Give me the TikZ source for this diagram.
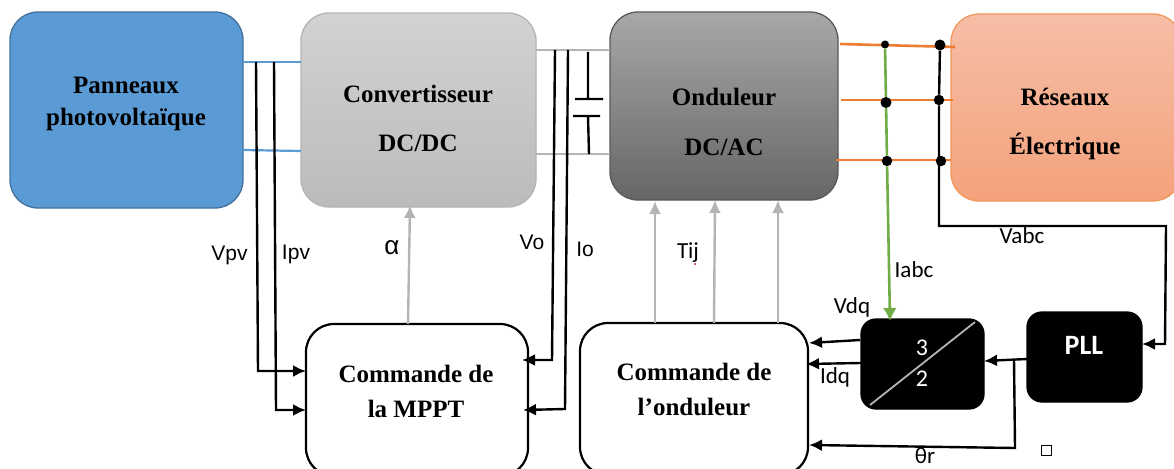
\documentclass[tikz,border=0pt]{standalone}
\usepackage{fontspec}
\setmainfont{Liberation Serif}
\newfontfamily\arialf{Liberation Sans}
\newfontfamily\calibf{Carlito}
\usetikzlibrary{arrows.meta}
\definecolor{blueF}{HTML}{5B9BD5}
\definecolor{blueD}{HTML}{41719C}
\definecolor{orangeL}{HTML}{ED7D31}
\definecolor{greenL}{HTML}{70AD47}
\definecolor{grayL}{HTML}{B4B4B4}
\definecolor{cvT}{HTML}{D2D2D2}
\definecolor{cvB}{HTML}{BBBBBB}
\definecolor{onT}{HTML}{A8A8A8}
\definecolor{onB}{HTML}{666666}
\definecolor{reT}{HTML}{F6BEA6}
\definecolor{reB}{HTML}{F4A27C}
\tikzset{
  box/.style={rectangle,inner sep=0pt,outer sep=0pt,line width=1.3pt},
  big/.style={box,rounded corners=28pt},
  ctrl/.style={big,draw=black,fill=white,line width=2.2pt},
  blackbox/.style={box,rounded corners=15pt,fill=black,draw=black},
  title/.style={align=center,font=\bfseries\fontsize{25}{#1}\selectfont,inner sep=0pt},
  title/.default=32,
  lab/.style={font=\arialf\fontsize{21}{24}\selectfont,inner sep=0pt},
  clab/.style={font=\calibf\fontsize{23}{25}\selectfont,inner sep=0pt},
  wh/.style={font=\calibf\fontsize{24}{26}\selectfont,text=white,inner sep=0pt},
  blk/.style={draw=black,line width=2.4pt},
  sig/.style={blk,-{Latex[length=13pt,width=12pt]}},
  graysig/.style={draw=grayL,line width=2.4pt,-{Latex[length=13pt,width=12pt]}},
  wire/.style={line width=2.2pt},
  dot/.style={circle,fill=black,inner sep=0pt,minimum size=#1},
  dot/.default=11pt
}
\begin{document}
\begin{tikzpicture}[x=1pt,y=-1pt]
\useasboundingbox (0,0) rectangle (1174,468);
\clip (0,0) rectangle (1174,468);
\fill[white] (0,0) rectangle (1174,468);
% boxes
\node[big,draw=blueD,fill=blueF,minimum width=233pt,minimum height=196pt] (pv) at (126.5,110) {};
\node[big,draw=grayL,top color=cvT,bottom color=cvB,minimum width=235pt,minimum height=194pt] (conv) at (418.5,110) {};
\node[big,draw=black!65,top color=onT,bottom color=onB,minimum width=228pt,minimum height=188pt] (ond) at (724,106) {};
\node[big,draw=orangeL!80,top color=reT,bottom color=reB,minimum width=230pt,minimum height=187pt] (res) at (1066,107.5) {};
\node[ctrl,minimum width=222pt,minimum height=152pt] (mppt) at (417,400) {};
\node[ctrl,minimum width=228pt,minimum height=152pt] (cond) at (694,399) {};
\node[blackbox,minimum width=123pt,minimum height=90pt] (conv32) at (922.5,364) {};
\node[blackbox,minimum width=115pt,minimum height=90pt] (pll) at (1084.5,357) {};
% titles
\node[title] (tpv) at (126,104) {Panneaux\\photovoltaïque};
\node[title=49] (tconv) at (418,118) {Convertisseur\\DC/DC};
\node[title=50] (tond) at (724,122) {Onduleur\\DC/AC};
\node[title=49] (tres) at (1065,124) {Réseaux\\Électrique};
\node[title=35] (tmppt) at (416,391) {Commande de\\la MPPT};
\node[title=35] (tcond) at (694,389) {Commande de\\l’onduleur};
% 3/2 and PLL
\coordinate (d1) at (870,405); \coordinate (d2) at (975,322);
\draw[grayL,line width=1.8pt] (d1) -- (d2);
\node[wh] (n3) at (922,348) {3};
\node[wh] (n2) at (922,379) {2};
\node[font=\calibf\bfseries\fontsize{28}{30}\selectfont,text=white,inner sep=0pt] (tpll) at (1084,345) {PLL};
% coordinates
\coordinate (pvA) at (243,62); \coordinate (cvA) at (301,62);
\coordinate (pvB) at (243,150); \coordinate (cvB1) at (301,151);
\coordinate (cvC) at (536,50); \coordinate (onC) at (610,50);
\coordinate (cvD) at (536,154); \coordinate (onD) at (610,154);
\coordinate (v1) at (256,62); \coordinate (v1b) at (258,371); \coordinate (v1c) at (306,371);
\coordinate (i1) at (274,62); \coordinate (i1b) at (276,410); \coordinate (i1c) at (306,410);
\coordinate (v2) at (555,50); \coordinate (v2b) at (552,360); \coordinate (v2c) at (522,360);
\coordinate (i2) at (568,50); \coordinate (i2b) at (565,409); \coordinate (i2c) at (523,410);
\coordinate (capT) at (588,52); \coordinate (capA) at (588,99);
\coordinate (capAl) at (575,99); \coordinate (capAr) at (603,99);
\coordinate (capBl) at (573,116); \coordinate (capBr) at (600,116);
\coordinate (capB) at (588,116); \coordinate (capE) at (589,154);
% DC lines
\draw[blueF,wire] (pvA) -- (cvA);
\draw[blueF,wire] (pvB) -- (cvB1);
\draw[grayL,wire] (cvC) -- (onC);
\draw[grayL,wire] (cvD) -- (onD);
\draw[blk] (capT) -- (capA) (capAl) -- (capAr) (capBl) -- (capBr) (capB) -- (capE);
% measurements
\draw[sig] (v1) -- (v1b) -- (v1c);
\draw[sig] (i1) -- (i1b) -- (i1c);
\draw[sig] (v2) -- (v2b) -- (v2c);
\draw[sig] (i2) -- (i2b) -- (i2c);
% gray control
\coordinate (aS) at (408,324); \coordinate (aE) at (410,205);
\draw[graysig] (aS) -- (aE);
\coordinate (t1S) at (655,323); \coordinate (t1E) at (655,201);
\coordinate (t2S) at (714,323); \coordinate (t2E) at (715,200);
\coordinate (t3S) at (778,323); \coordinate (t3E) at (778,200);
\draw[graysig] (t1S) -- (t1E);
\draw[graysig] (t2S) -- (t2E);
\draw[graysig] (t3S) -- (t3E);
% AC lines
\coordinate (oa) at (840,44); \coordinate (ra) at (955,47);
\coordinate (ob) at (841,100); \coordinate (rb) at (953,100);
\coordinate (oc) at (836,160); \coordinate (rc) at (951,160);
\draw[orangeL,line width=2.6pt] (oa) -- (ra);
\draw[orangeL,line width=2.6pt] (ob) -- (rb);
\draw[orangeL,line width=2.6pt] (oc) -- (rc);
\node[dot=8pt] (g1) at (885,44.5) {};
\node[dot=11pt] (g2) at (886,102.5) {};
\node[dot=10.5pt] (g3) at (887,161) {};
\node[dot=11pt] (b1) at (940,45) {};
\node[dot=10.5pt] (b2) at (939,100) {};
\node[dot=10.5pt] (b3) at (941,161) {};
\coordinate (gE) at (890,321);
\draw[greenL,line width=2.6pt,-{Latex[length=13pt,width=14pt]}] (g1) -- (g2) -- (g3) -- (gE);
\coordinate (bk1) at (939,226); \coordinate (bk2) at (1166,226); \coordinate (bk3) at (1165,344); \coordinate (bk4) at (1142,344);
\draw[sig] (b1) -- (b2) -- (bk1) -- (bk2) -- (bk3) -- (bk4);
% dq
\coordinate (q1) at (860,340); \coordinate (q1e) at (809,343);
\coordinate (q2) at (861,363); \coordinate (q2e) at (806,364);
\draw[sig] (q1) -- (q1e);
\draw[sig] (q2) -- (q2e);
\coordinate (p1) at (1027,359); \coordinate (p1e) at (984,361);
\draw[sig] (p1) -- (p1e);
\coordinate (j) at (1014,360); \coordinate (j2) at (1015,448); \coordinate (j3) at (809,445);
\draw[sig] (j) -- (j2) -- (j3);
% labels
\node[lab] (lvpv) at (229.5,255) {Vpv};
\node[lab] (lipv) at (296,254) {Ipv};
\node[lab,font=\arialf\fontsize{26}{28}\selectfont] (lalpha) at (392,248) {α};
\node[lab] (lvo) at (532,242) {Vo};
\node[lab] (lio) at (585,249) {Io};
\node[clab] (ltij) at (688,253) {Tij};
\fill[red!80!black] (695,264) circle (1pt);
\node[clab] (lvabc) at (1022,236) {Vabc};
\node[clab] (liabc) at (914,270) {Iabc};
\node[clab] (lvdq) at (852,307) {Vdq};
\node[clab] (lidq) at (835,377) {Idq};
\node[clab] (ltheta) at (925,456) {θr};
\node[rectangle,draw=black,line width=1pt,fill=white,minimum size=10pt,inner sep=0pt] (sq) at (1046,450) {};
\end{tikzpicture}
\end{document}
